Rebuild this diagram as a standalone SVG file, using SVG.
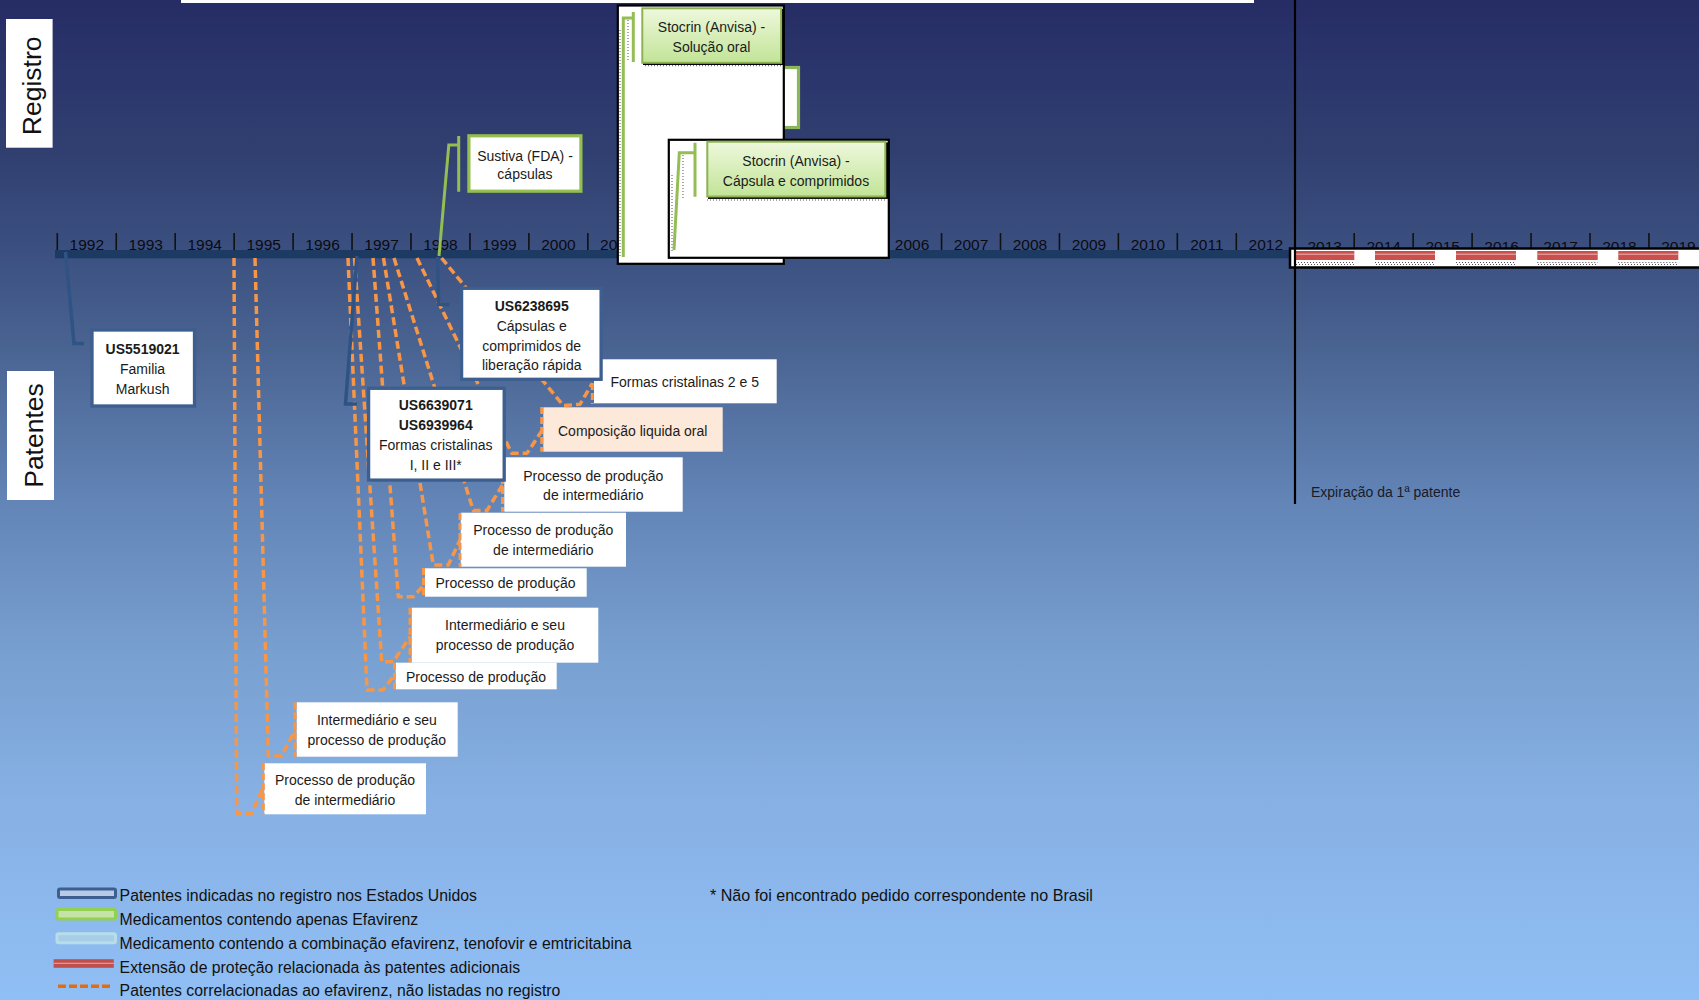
<svg xmlns="http://www.w3.org/2000/svg" width="1699" height="1000" viewBox="0 0 1699 1000">
<defs>
<linearGradient id="bg" x1="0" y1="0" x2="0" y2="1">
<stop offset="0" stop-color="#262c64"/>
<stop offset="0.05" stop-color="#29336a"/>
<stop offset="0.15" stop-color="#303f70"/>
<stop offset="0.25" stop-color="#3b5080"/>
<stop offset="0.35" stop-color="#4a6492"/>
<stop offset="0.5" stop-color="#6284b6"/>
<stop offset="0.65" stop-color="#779fcf"/>
<stop offset="0.8" stop-color="#87b0e4"/>
<stop offset="1" stop-color="#90bff5"/>
</linearGradient>
<linearGradient id="gl" x1="0" y1="0" x2="0" y2="1">
<stop offset="0" stop-color="#eef8dc"/>
<stop offset="1" stop-color="#c2e497"/>
</linearGradient>
</defs>
<style>
text{font-family:"Liberation Sans",Arial,sans-serif;fill:#1b1b1b}
.yr{font-size:15.5px;text-anchor:middle;fill:#0a0a10}
.t{font-size:14px;text-anchor:middle}
.b{font-weight:bold}
.lg{font-size:15.8px;fill:#111}
.side{font-size:26.5px;text-anchor:middle;fill:#111}
.pbox{fill:#fff;stroke:#3d5f8f;stroke-width:3.3}
.lab{fill:#fff}
.acc{stroke:#f79646;stroke-width:3;stroke-dasharray:7 3;fill:none}
.or{stroke:#f79646;stroke-width:3.5;stroke-dasharray:8 4;fill:none;stroke-linejoin:round}
.bl{stroke:#2f5385;stroke-width:3.5;fill:none}
.gr{stroke:#94bd54;stroke-width:3;fill:none}
.tick{stroke:#111;stroke-width:1.6}
.frame{fill:#fff;stroke:#000;stroke-width:2.2}
.dots{stroke:#555;stroke-width:1;stroke-dasharray:1 2;fill:none}
.red{fill:#c9504d}
.hl{stroke:#f0b4b3;stroke-width:1}
</style>
<rect x="0" y="0" width="1699" height="1000" fill="url(#bg)"/>
<rect x="181" y="0" width="1073" height="3" fill="#fff"/>

<g id="side-labels">
<g id="registro"><rect x="6" y="19" width="46.6" height="128.7" fill="#fff"/><text class="side" transform="translate(40.7,85.8) rotate(-90)">Registro</text></g>
<g id="patentes"><rect x="7" y="371" width="47" height="129" fill="#fff"/><text class="side" transform="translate(42.7,435.5) rotate(-90)">Patentes</text></g>
</g>

<g id="timeline">
<g class="yr-labels">
<text class="yr" x="86.8" y="250.3">1992</text>
<text class="yr" x="145.75" y="250.3">1993</text>
<text class="yr" x="204.7" y="250.3">1994</text>
<text class="yr" x="263.65" y="250.3">1995</text>
<text class="yr" x="322.6" y="250.3">1996</text>
<text class="yr" x="381.55" y="250.3">1997</text>
<text class="yr" x="440.5" y="250.3">1998</text>
<text class="yr" x="499.45" y="250.3">1999</text>
<text class="yr" x="558.4" y="250.3">2000</text>
<text class="yr" x="617.35" y="250.3">2001</text>
<text class="yr" x="912.1" y="250.3">2006</text>
<text class="yr" x="971.05" y="250.3">2007</text>
<text class="yr" x="1030" y="250.3">2008</text>
<text class="yr" x="1088.95" y="250.3">2009</text>
<text class="yr" x="1147.9" y="250.3">2010</text>
<text class="yr" x="1206.85" y="250.3">2011</text>
<text class="yr" x="1265.8" y="250.3">2012</text>
<text class="yr" x="1324.75" y="251.5">2013</text>
<text class="yr" x="1383.7" y="251.5">2014</text>
<text class="yr" x="1442.65" y="251.5">2015</text>
<text class="yr" x="1501.6" y="251.5">2016</text>
<text class="yr" x="1560.55" y="251.5">2017</text>
<text class="yr" x="1619.5" y="251.5">2018</text>
<text class="yr" x="1678.45" y="251.5">2019</text>
</g>
<path class="tick" d="M57.3 233V251M116.25 233V251M175.2 233V251M234.15 233V251M293.1 233V251M352.05 233V251M411 233V251M469.95 233V251M528.9 233V251M587.85 233V251M646.8 233V251M705.75 233V251M764.7 233V251M823.65 233V251M882.6 233V251M941.55 233V251M1000.5 233V251M1059.45 233V251M1118.4 233V251M1177.35 233V251M1236.3 233V251M1354.2 233V251M1413.15 233V251M1472.1 233V251M1531.05 233V251M1590 233V251M1648.95 233V251"/>
<rect x="55" y="250" width="1240" height="8.3" fill="#1d3a63"/>
</g>

<g id="connectors">
<path class="or" d="M234 258L236.7 813.3H251.7L263.3 786.7"/>
<path class="or" d="M255 258L268.3 756H281.7L295 730"/>
<path class="or" d="M348 258L367 690H383L394.5 675"/>
<path class="or" d="M354.5 258L381.7 661.7H393.3L410 636.7"/>
<path class="or" d="M373 258L398.3 596.7H413.3L424 585"/>
<path class="or" d="M383.5 258L433.3 565H448.3L460 540"/>
<path class="or" d="M394 258L473.3 510.5H487L502.5 485"/>
<path class="or" d="M417 258L511.7 453.3H527L541.7 431"/>
<path class="or" d="M441.5 258L563.3 405.5L580 404.3L592.3 383.3"/>
<path class="bl" d="M65.5 252L74 343.5H84"/>
<path class="bl" d="M357 256L345.5 404H357"/>
<path class="bl" d="M437.5 257L438.8 304.5H449.5"/>
<path class="gr" d="M439 256L448.8 145H458.7M458.7 136V191.7"/>
</g>

<g id="labels">
<g id="lbl-formas25"><rect class="lab" x="594" y="359.3" width="182.7" height="44"/><path class="acc" d="M592.3 383V404"/><text class="t" x="684.7" y="386.7">Formas cristalinas 2 e 5</text></g>
<g id="lbl-composicao"><rect x="543.3" y="407.3" width="179.4" height="44.4" fill="#fde9d9"/><path class="acc" d="M541.7 407V451.7"/><text class="t" x="632.7" y="435.7">Composição liquida oral</text></g>
<g id="lbl-proc-int-1"><rect class="lab" x="504.3" y="457.3" width="178.4" height="54.4"/><path class="acc" d="M502.5 457V511.7"/><text class="t" x="593.3" y="480.7">Processo de produção</text><text class="t" x="593.3" y="500">de intermediário</text></g>
<g id="lbl-proc-int-2"><rect class="lab" x="460.7" y="512.7" width="165.3" height="54"/><path class="acc" d="M460 513V566.7"/><text class="t" x="543.3" y="535">Processo de produção</text><text class="t" x="543.3" y="555">de intermediário</text></g>
<g id="lbl-proc-1"><rect class="lab" x="425" y="568.3" width="161.7" height="28.4"/><path class="acc" d="M423.5 568V596.7"/><text class="t" x="505.5" y="588.3">Processo de produção</text></g>
<g id="lbl-inter-1"><rect class="lab" x="411.7" y="607.7" width="186.6" height="55"/><path class="acc" d="M410 607.7V662.7"/><text class="t" x="505" y="630">Intermediário e seu</text><text class="t" x="505" y="650">processo de produção</text></g>
<g id="lbl-proc-2"><rect class="lab" x="395.7" y="662.7" width="161" height="26.6"/><path class="acc" d="M394.5 662.7V689.3"/><text class="t" x="476" y="681.7">Processo de produção</text></g>
<g id="lbl-inter-2"><rect class="lab" x="296.7" y="702.3" width="161" height="54.4"/><path class="acc" d="M295 702.3V756.7"/><text class="t" x="376.8" y="725">Intermediário e seu</text><text class="t" x="376.8" y="745">processo de produção</text></g>
<g id="lbl-proc-int-3"><rect class="lab" x="264.3" y="763.3" width="161.7" height="51"/><path class="acc" d="M263.3 763.3V814.3"/><text class="t" x="345" y="785">Processo de produção</text><text class="t" x="345" y="805">de intermediário</text></g>
</g>

<g id="patents">
<g id="us5519021"><rect class="pbox" x="92" y="330" width="102.5" height="76"/><text class="t b" x="142.6" y="354.3">US5519021</text><text class="t" x="142.6" y="374">Familia</text><text class="t" x="142.6" y="394">Markush</text></g>
<g id="us6238695"><rect class="pbox" x="461.6" y="288.3" width="139.5" height="91"/><text class="t b" x="531.7" y="310.7">US6238695</text><text class="t" x="531.7" y="330.7">Cápsulas e</text><text class="t" x="531.7" y="350.7">comprimidos de</text><text class="t" x="531.7" y="370">liberação rápida</text></g>
<g id="us6639071"><rect class="pbox" x="368.6" y="388.3" width="135.6" height="91.8"/><text class="t b" x="435.7" y="410">US6639071</text><text class="t b" x="435.7" y="430">US6939964</text><text class="t" x="435.7" y="450">Formas cristalinas</text><text class="t" x="435.7" y="470">I, II e III*</text></g>
</g>

<g id="registrations">
<g id="sustiva"><rect x="468.9" y="135.8" width="112" height="55.4" fill="#fff" stroke="#94bf4f" stroke-width="3.2"/><text class="t" x="525" y="160.7">Sustiva (FDA) -</text><text class="t" x="525" y="178.5">cápsulas</text></g>
<g id="hidden-med"><rect x="700" y="67.5" width="98.5" height="60" fill="#fff" stroke="#8db55a" stroke-width="3.2"/></g>
<g id="stocrin-solucao">
<rect class="frame" x="617.8" y="5.5" width="166" height="258.3"/>
<path class="dots" d="M620 30V256M645 65.7H782M628 20V60"/>
<path class="gr" d="M623.3 257V18H633.3M633.3 12V62"/>
<rect x="643" y="9" width="140.5" height="56" fill="#000"/>
<rect x="642.3" y="8.3" width="138.8" height="54.5" fill="url(#gl)" stroke="#8db352" stroke-width="2"/>
<text class="t" x="711.5" y="32.3">Stocrin (Anvisa) -</text><text class="t" x="711.5" y="52.3">Solução oral</text>
</g>
<g id="stocrin-capsula">
<rect class="frame" x="668.8" y="139.8" width="220" height="118"/>
<path class="dots" d="M672 175V252M707 200H886M683 155V200"/>
<path class="gr" d="M674 250L679.3 152.7H695M695 142.7V196.7"/>
<rect x="708" y="142.4" width="180" height="56.5" fill="#000"/>
<rect x="707.3" y="141.7" width="178" height="54.8" fill="url(#gl)" stroke="#8db352" stroke-width="2"/>
<text class="t" x="796" y="165.8">Stocrin (Anvisa) -</text><text class="t" x="796" y="185.8">Cápsula e comprimidos</text>
</g>
</g>

<g id="extension">
<rect x="1290" y="248.5" width="420" height="19" fill="#fff" stroke="#000" stroke-width="2.5"/>
<rect class="red" x="1295" y="251" width="59.3" height="9"/>
<rect class="red" x="1375" y="251" width="60" height="9"/>
<rect class="red" x="1456" y="251" width="60" height="9"/>
<rect class="red" x="1537.3" y="251" width="60.4" height="9"/>
<rect class="red" x="1618.3" y="251" width="60" height="9"/>
<path class="hl" d="M1295 254.2H1354.3M1375 254.2H1435M1456 254.2H1516M1537.3 254.2H1597.7M1618.3 254.2H1678.3"/>
<path class="dots" d="M1295 262.5H1354.3M1375 262.5H1435M1456 262.5H1516M1537.3 262.5H1597.7M1618.3 262.5H1678.3M1296 264.5H1354M1376 264.5H1434M1457 264.5H1515M1538 264.5H1597M1619 264.5H1677"/>
</g>

<g id="expiration">
<path d="M1295 0V504" stroke="#000" stroke-width="2.2"/>
<text x="1311" y="496.7" style="font-size:14px;fill:#1a1a28">Expiração da 1ª patente</text>
</g>

<g id="legend">
<rect x="58.5" y="889" width="57" height="8.5" rx="1.5" fill="#b8cbe6" stroke="#3d5f8f" stroke-width="3"/>
<text class="lg" x="119.6" y="901">Patentes indicadas no registro nos Estados Unidos</text>
<rect x="57" y="909.5" width="58.5" height="9.5" rx="1.5" fill="#c5e3a6" stroke="#92d050" stroke-width="3"/>
<text class="lg" x="119.6" y="924.8">Medicamentos contendo apenas Efavirenz</text>
<rect x="57" y="933.7" width="58.5" height="9" rx="1.5" fill="#a8cde8" stroke="#b7dee8" stroke-width="3"/>
<text class="lg" x="119.6" y="948.6">Medicamento contendo a combinação efavirenz, tenofovir e emtricitabina</text>
<rect x="53.6" y="959.2" width="60.2" height="8.6" fill="#c0504d"/>
<path d="M53.6 963.3H113.8" stroke="#e6a9a8" stroke-width="1"/>
<text class="lg" x="119.6" y="972.6">Extensão de proteção relacionada às patentes adicionais</text>
<path d="M58 986.2H111.6" stroke="#e46c0a" stroke-width="3.5" stroke-dasharray="8 3"/>
<text class="lg" x="119.6" y="996">Patentes correlacionadas ao efavirenz, não listadas no registro</text>
<text class="lg" x="710" y="901" style="font-size:16.1px">* Não foi encontrado pedido correspondente no Brasil</text>
</g>
</svg>
